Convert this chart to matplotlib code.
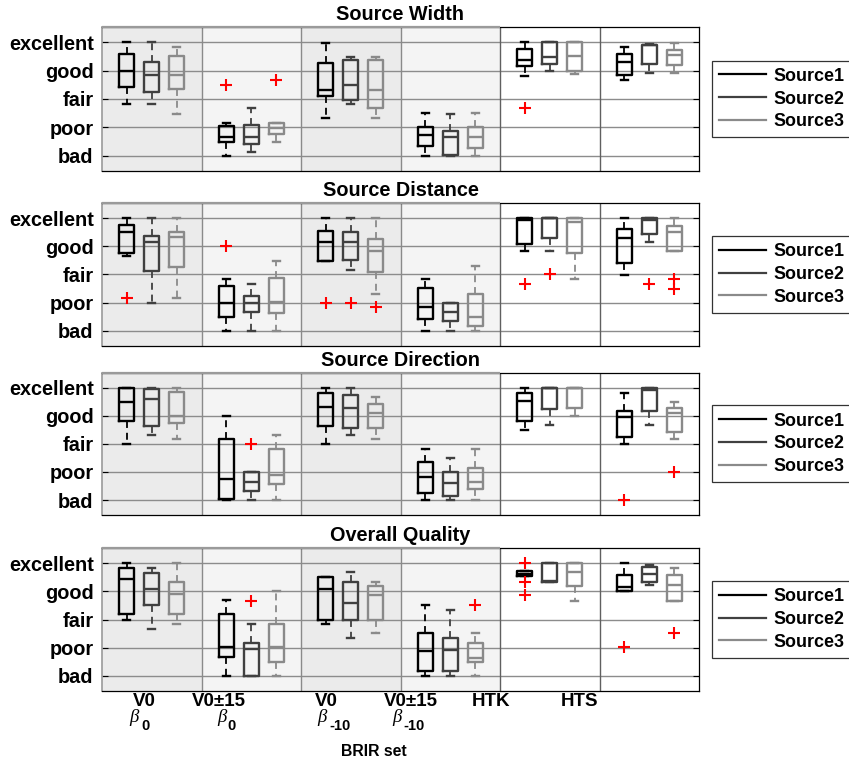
import matplotlib
matplotlib.use('Agg')
import matplotlib.pyplot as plt
from matplotlib.lines import Line2D
from matplotlib.transforms import blended_transform_factory

plt.rcParams['font.family'] = ['Liberation Sans', 'DejaVu Sans']
plt.rcParams['font.weight'] = 'bold'
plt.rcParams['lines.scale_dashes'] = False

# ---------------- data ----------------
titles = ['Source Width', 'Source Distance', 'Source Direction', 'Overall Quality']
sources = ['Source1', 'Source2', 'Source3']
rating_labels = ['bad', 'poor', 'fair', 'good', 'excellent']
rating_values = [1, 2, 3, 4, 5]
group_labels = ['V0', 'V0\u00b115', 'V0', 'V0\u00b115', 'HTK', 'HTS']
beta_symbol = '\u03b2'
beta_subscripts = ['0', '0', '-10', '-10']
xlabel = 'BRIR set'

# each entry: (whisker low, q1, median, q3, whisker high)
sw_s1 = [(2.82, 3.43, 4.00, 4.59, 5.00), (0.99, 1.49, 1.67, 2.04, 2.16),
         (2.33, 3.11, 3.33, 4.28, 4.98), (1.00, 1.35, 1.73, 2.02, 2.52),
         (3.80, 4.18, 4.39, 4.78, 5.00), (3.66, 3.84, 4.31, 4.58, 4.83)]
sw_s2 = [(2.82, 3.23, 3.84, 4.30, 5.00), (1.14, 1.41, 1.67, 2.08, 2.67),
         (2.82, 2.96, 3.49, 4.37, 4.48), (1.00, 1.02, 1.67, 1.87, 2.47),
         (4.00, 4.25, 4.48, 5.00, 5.00), (3.90, 4.25, 4.89, 4.89, 4.95)]
sw_s3 = [(2.48, 3.36, 3.84, 4.53, 4.82), (1.49, 1.76, 1.96, 2.16, 2.16),
         (2.33, 2.67, 3.33, 4.37, 4.48), (1.00, 1.26, 1.67, 2.02, 2.52),
         (3.87, 3.99, 4.51, 5.00, 5.00), (3.90, 4.19, 4.54, 4.74, 4.98)]
sw_s1_out = [[], [3.49], [], [], [2.67], []]
sw_s2_out = [[], [], [], [], [], []]
sw_s3_out = [[], [3.66], [], [], [], []]

sd_s1 = [(3.65, 3.78, 4.51, 4.75, 5.00), (1.00, 1.50, 2.00, 2.58, 2.84),
         (3.49, 3.49, 4.16, 4.53, 5.00), (1.00, 1.41, 1.84, 2.52, 2.84),
         (3.83, 4.08, 4.92, 5.00, 5.00), (2.99, 3.42, 4.31, 4.60, 5.00)]
sd_s2 = [(2.00, 3.11, 4.16, 4.37, 5.00), (1.00, 1.68, 2.00, 2.25, 2.66),
         (3.16, 3.51, 4.16, 4.50, 5.00), (1.00, 1.35, 1.68, 2.00, 2.00),
         (3.83, 4.31, 5.00, 5.00, 5.00), (4.16, 4.43, 4.92, 5.00, 5.00)]
sd_s3 = [(2.17, 3.28, 4.33, 4.51, 5.00), (1.00, 1.62, 2.02, 2.87, 3.49),
         (2.32, 3.08, 3.83, 4.27, 5.00), (1.00, 1.18, 1.50, 2.32, 3.30),
         (2.84, 3.78, 4.86, 5.00, 5.00), (3.83, 3.83, 4.51, 4.74, 5.00)]
sd_s1_out = [[2.17], [4.0], [2.0], [], [2.66], []]
sd_s2_out = [[], [], [2.0], [], [3.0], [2.66]]
sd_s3_out = [[], [], [1.84], [], [], [2.84, 2.48]]

sdir_s1 = [(3.00, 3.82, 4.50, 5.00, 5.00), (1.00, 1.05, 1.75, 3.16, 4.00),
           (3.00, 3.65, 4.32, 4.82, 5.00), (1.00, 1.25, 1.83, 2.34, 2.83),
           (3.50, 3.83, 4.53, 4.82, 5.00), (3.00, 3.26, 3.97, 4.16, 4.80)]
sdir_s2 = [(3.32, 3.65, 4.59, 4.94, 5.00), (1.00, 1.33, 1.66, 2.00, 2.00),
           (3.32, 3.58, 4.26, 4.74, 5.00), (1.00, 1.13, 1.60, 2.00, 2.50),
           (3.67, 4.24, 5.00, 5.00, 5.00), (3.67, 4.18, 4.91, 5.00, 5.00)]
sdir_s3 = [(3.16, 3.74, 4.00, 4.85, 5.00), (1.00, 1.57, 1.91, 2.83, 3.32),
           (3.16, 3.58, 4.09, 4.41, 4.65), (1.00, 1.40, 1.66, 2.15, 2.81),
           (4.00, 4.26, 5.00, 5.00, 5.00), (3.16, 3.42, 4.09, 4.26, 4.50)]
sdir_s1_out = [[], [], [], [], [], [1.0]]
sdir_s2_out = [[], [3.0], [], [], [], []]
sdir_s3_out = [[], [], [], [], [], [2.0]]

oq_s1 = [(3.00, 3.18, 4.43, 4.84, 5.00), (1.00, 1.66, 2.01, 3.18, 3.69),
         (2.84, 3.00, 4.10, 4.51, 4.51), (1.00, 1.16, 1.87, 2.51, 3.51),
         (4.53, 4.53, 4.62, 4.72, 4.72), (4.02, 4.02, 4.16, 4.57, 5.00)]
oq_s2 = [(2.67, 3.51, 4.10, 4.66, 4.84), (1.00, 1.00, 1.96, 2.18, 2.84),
         (2.34, 3.00, 3.60, 4.33, 4.68), (1.00, 1.16, 1.93, 2.34, 3.33),
         (4.33, 4.33, 4.36, 5.00, 5.00), (4.22, 4.33, 4.60, 4.86, 4.95)]
oq_s3 = [(2.84, 3.18, 3.91, 4.33, 5.00), (1.00, 1.50, 2.01, 2.84, 4.00),
         (2.51, 3.00, 3.86, 4.18, 4.33), (1.00, 1.50, 1.63, 2.18, 2.51),
         (3.67, 4.18, 4.68, 5.00, 5.00), (3.67, 3.67, 4.22, 4.57, 4.84)]
oq_s1_out = [[], [], [], [], [5.0, 4.33, 3.87], [2.01]]
oq_s2_out = [[], [3.66], [], [], [], []]
oq_s3_out = [[], [], [], [3.51], [], [2.51]]

panels = [
    ([sw_s1, sw_s2, sw_s3], [sw_s1_out, sw_s2_out, sw_s3_out]),
    ([sd_s1, sd_s2, sd_s3], [sd_s1_out, sd_s2_out, sd_s3_out]),
    ([sdir_s1, sdir_s2, sdir_s3], [sdir_s1_out, sdir_s2_out, sdir_s3_out]),
    ([oq_s1, oq_s2, oq_s3], [oq_s1_out, oq_s2_out, oq_s3_out]),
]

# ---------------- style / layout ----------------
W, H = 849, 767
colors = ['#000000', '#404040', '#8a8a8a']
offsets = [-0.25, 0.0, 0.25]
shade = ['#ebebeb', '#f4f4f4', '#ebebeb', '#f4f4f4']
axes_px = [(27.3, 170.7), (203.3, 345.7), (372.7, 515.0), (548.3, 690.7)]
ax_left, ax_right = 102, 699

fig = plt.figure(figsize=(W / 100, H / 100), dpi=100)


def fx(px):
    return px / W


def fy(py):
    return 1 - py / H


for (top, bot), title, (series, outs) in zip(axes_px, titles, panels):
    ax = fig.add_axes([fx(ax_left), fy(bot), (ax_right - ax_left) / W, (bot - top) / H])
    ax.set_xlim(0.5, 6.5)
    ax.set_ylim(0.47, 5.53)
    for g, col in enumerate(shade):
        ax.axvspan(g + 0.5, g + 1.5, facecolor=col, edgecolor='none', zorder=0.5)
    trans = blended_transform_factory(ax.transData, ax.transAxes)
    ax.plot([0.5, 4.5], [1, 1], color='#9a9a9a', lw=1.6, transform=trans,
            zorder=2.6, clip_on=False, solid_capstyle='butt')
    for y in rating_values:
        ax.axhline(y, color='#8c8c8c', lw=1.0, zorder=1)
    for xs in [1.5, 2.5, 3.5]:
        ax.axvline(xs, color='#8a8a8a', lw=1.0, zorder=1)
    for xs in [4.5, 5.5]:
        ax.axvline(xs, color='#606060', lw=1.0, zorder=1)
    for s in range(3):
        stats = []
        for g in range(6):
            lo, q1, med, q3, hi = series[s][g]
            stats.append(dict(whislo=lo, q1=q1, med=med, q3=q3, whishi=hi,
                              fliers=outs[s][g]))
        pos = [g + 1 + offsets[s] for g in range(6)]
        c = colors[s]
        ax.bxp(stats, positions=pos, widths=0.15, capwidths=0.07,
               showfliers=True, manage_ticks=False,
               boxprops=dict(color=c, lw=1.7),
               whiskerprops=dict(color=c, lw=1.3, linestyle=(0, (5, 3.5))),
               capprops=dict(color=c, lw=1.7),
               medianprops=dict(color=c, lw=1.7),
               flierprops=dict(marker='+', markeredgecolor='red',
                               markersize=8, mew=1.5, linestyle='none'),
               zorder=3)
    ax.set_xticks([])
    ax.set_yticks(rating_values)
    ax.set_yticklabels(rating_labels, fontsize=14.3, fontweight='bold')
    ax.tick_params(axis='y', direction='in', length=4, width=0.8, pad=6,
                   left=True, right=True, colors='#000000')
    for sp in ['top', 'bottom', 'right']:
        ax.spines[sp].set_color('#000000')
        ax.spines[sp].set_linewidth(0.9)
    ax.spines['left'].set_color('#9a9a9a')
    ax.spines['left'].set_linewidth(1.2)
    ax.set_title(title, fontsize=14.3, fontweight='bold', pad=5)
    handles = [Line2D([], [], color=colors[i], lw=1.6) for i in range(3)]
    leg = ax.legend(handles, sources, loc='center left',
                    bbox_to_anchor=(fx(712), fy((top + bot) / 2)),
                    bbox_transform=fig.transFigure, borderaxespad=0,
                    prop=dict(weight='bold', size=12.9), frameon=True,
                    fancybox=False, edgecolor='#333333', framealpha=1,
                    handlelength=2.6, handletextpad=0.45, labelspacing=0.32,
                    borderpad=0.4)
    leg.get_frame().set_linewidth(0.9)

# x tick labels (two lines) and axis label
lab1_px = [144, 219, 326, 411, 491, 580]
beta_px = [134, 221.5, 321.7, 396.7]
sub_left_px = [141, 227, 329, 403]
for lab, px in zip(group_labels, lab1_px):
    fig.text(fx(px), fy(701), lab, ha='center', va='center',
             fontsize=13.5, fontweight='bold')
for px, spx, sub in zip(beta_px, sub_left_px, beta_subscripts):
    fig.text(fx(px), fy(718), beta_symbol, ha='center', va='center',
             fontsize=13.5, fontweight='normal', fontstyle='italic',
             family=['Liberation Serif', 'DejaVu Serif'])
    fig.text(fx(spx), fy(725.5), sub, ha='left', va='center',
             fontsize=10.5, fontweight='bold')
fig.text(fx(374), fy(751), xlabel, ha='center', va='center',
         fontsize=11.3, fontweight='bold')

fig.savefig('out.png', dpi=100)
